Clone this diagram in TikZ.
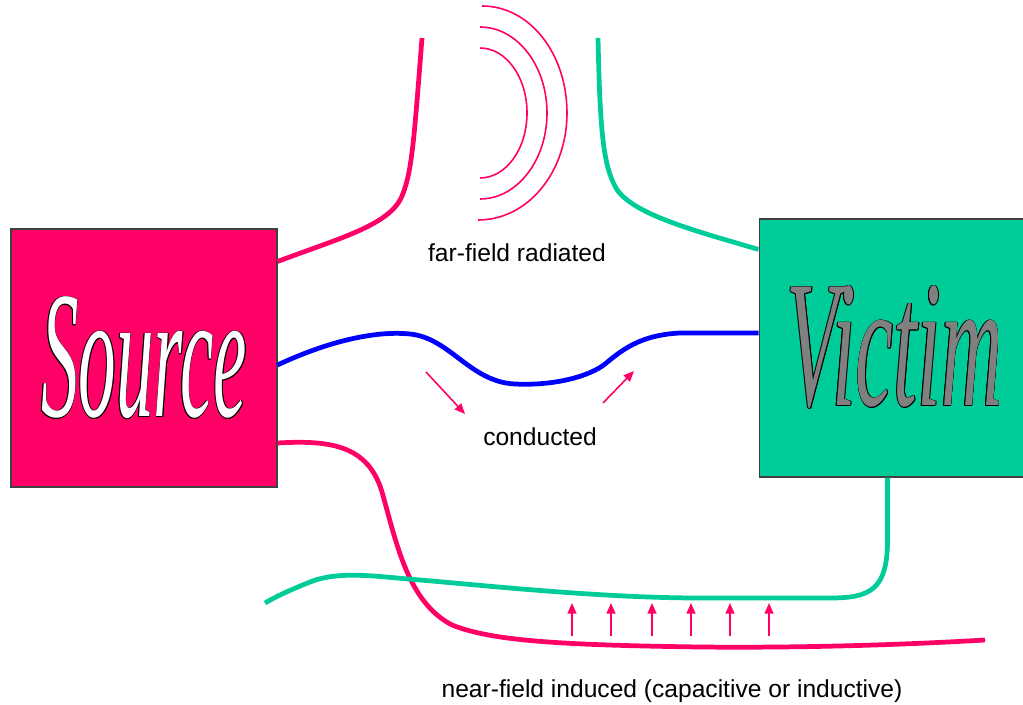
\documentclass[tikz,border=0pt]{standalone}
\usepackage{graphicx}
\usepackage{fontspec}
\setmainfont{Liberation Sans}
\newfontfamily\bigserif{Liberation Serif}
\usetikzlibrary{arrows.meta}
\definecolor{srcred}{HTML}{FF0066}
\definecolor{vicgreen}{HTML}{00CC99}
\definecolor{condblue}{HTML}{0000FF}
\definecolor{vicgray}{HTML}{808080}
\newcommand\outlinedword[2]{\setbox0=\hbox{#2}%
\rlap{\color{black}\kern1.0pt\copy0}%
\rlap{\color{black}\kern-1.0pt\copy0}%
\rlap{\color{black}\raise0.45pt\copy0}%
\rlap{\color{black}\lower0.45pt\copy0}%
\rlap{\color{black}\kern0.7pt\raise0.32pt\copy0}%
\rlap{\color{black}\kern-0.7pt\raise0.32pt\copy0}%
\rlap{\color{black}\kern0.7pt\lower0.32pt\copy0}%
\rlap{\color{black}\kern-0.7pt\lower0.32pt\copy0}%
{\color{#1}\copy0}}
\newcommand\bigword[4]{\raisebox{#4}{\scalebox{#2}[1]{\bigserif\itshape\fontsize{103}{103}\selectfont\outlinedword{#1}{#3}}}}
\begin{document}
\begin{tikzpicture}[x=0.02cm,y=-0.02cm,
  box/.style={rectangle, draw=black!75, line width=0.6pt, inner sep=0pt},
  wire/.style={line width=2.7pt},
  wave/.style={srcred, line width=0.9pt},
  pinkarrow/.style={srcred, line width=0.9pt, -{Triangle[length=6pt,width=5pt]}},
  lbl/.style={font=\fontsize{14}{16}\selectfont, anchor=base, inner sep=0pt}]
\useasboundingbox (0,0) rectangle (1023,705);
\clip (0,0) rectangle (1023,705);

% boxes
\node[box, fill=srcred, minimum width=5.32cm, minimum height=5.16cm] (Source) at (144,358) {\bigword{white}{0.415}{Source}{1.6pt}};
\node[box, fill=vicgreen, minimum width=5.42cm, minimum height=5.16cm] (Victim) at (894.5,348) {\bigword{vicgray}{0.47}{Victim}{2.8pt}};

% free ends
\coordinate (srcTop) at (422,38);
\coordinate (vicTop) at (598,38);
\coordinate (srcEnd) at (985,640);
\coordinate (vicEnd) at (265,603);

% far-field radiated wires
\draw[wire, srcred] ([shift={(0,33)}]Source.north east) .. controls (340,238) and (390,225) .. (402,196) .. controls (412,172) and (414,140) .. (srcTop);
\draw[wire, vicgreen] ([shift={(0,31)}]Victim.north west) .. controls (700,232) and (632,215) .. (616,188) .. controls (603,165) and (600,130) .. (vicTop);

% radiated waves
\draw[wave] (480,48) .. controls (506,48) and (527,77) .. (527,113) .. controls (527,149) and (506,178) .. (480,178);
\draw[wave] (480,27) .. controls (517,27) and (547,65.5) .. (547,113) .. controls (547,160.5) and (517,199) .. (480,199);
\draw[wave] (482,6) .. controls (530,6) and (567,54) .. (567,113) .. controls (567,172) and (528,220) .. (478,220);

% conducted
\draw[wire, condblue] ([shift={(0,7)}]Source.east) .. controls (320,345) and (370,330) .. (410,334) .. controls (450,338) and (470,382) .. (515,384) .. controls (555,386) and (590,376) .. (605,364) .. controls (622,350) and (640,335) .. (680,333) -- ([shift={(0,-15)}]Victim.west);

\coordinate (ca1) at (426,372); \coordinate (cb1) at (465,414);
\coordinate (ca2) at (603,403); \coordinate (cb2) at (634,371);
\draw[pinkarrow] (ca1) -- (cb1);
\draw[pinkarrow] (ca2) -- (cb2);

% near-field
\draw[wire, srcred] ([shift={(0,85)}]Source.east) .. controls (330,440) and (368,445) .. (382,492) .. controls (397,545) and (408,602) .. (452,625) .. controls (492,641) and (560,645) .. (700,647) .. controls (800,648) and (900,645) .. (srcEnd);
\draw[wire, vicgreen] ([shift={(-7,0)}]Victim.south) -- (887.5,540) .. controls (887.5,590) and (870,598) .. (830,598) -- (700,598) .. controls (600,598) and (480,585) .. (420,580) .. controls (380,577) and (340,570) .. (310,582) .. controls (290,590) and (275,597) .. (vicEnd);

\foreach \i/\xx in {1/572,2/611,3/652,4/691,5/730,6/769}{
  \coordinate (ua\i) at (\xx,636);
  \coordinate (ub\i) at (\xx,603);
  \draw[pinkarrow] (ua\i) -- (ub\i);
}

% labels
\node[lbl] (farlbl) at (517,262) {far-field radiated};
\node[lbl] (condlbl) at (540,445) {conducted};
\node[lbl] (nearlbl) at (672,697) {near-field induced (capacitive or inductive)};
\end{tikzpicture}
\end{document}
